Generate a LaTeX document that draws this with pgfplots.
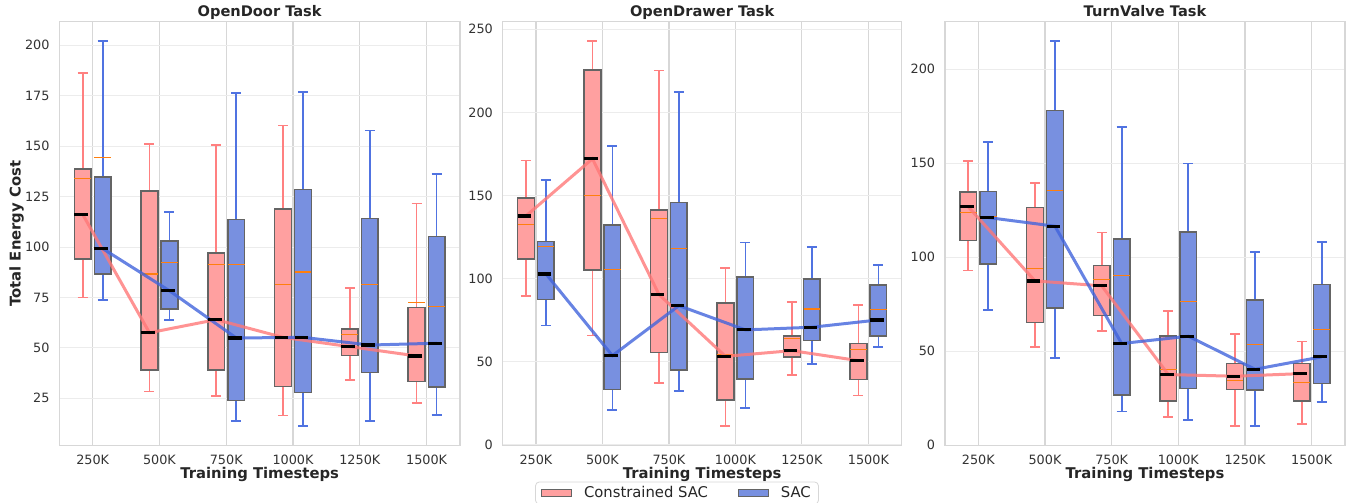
\documentclass[border=0pt]{standalone}
\usepackage{pgfplots}
\pgfplotsset{compat=1.18}
\usepackage{fontspec}
\setmainfont{DejaVu Sans}
\definecolor{cfill}{RGB}{255,160,160}
\definecolor{sfill}{RGB}{120,144,224}
\definecolor{cwhisk}{RGB}{255,128,128}
\definecolor{swhisk}{RGB}{80,115,225}
\definecolor{cline}{RGB}{255,120,120}
\definecolor{sline}{RGB}{65,100,220}
\definecolor{meanc}{RGB}{255,127,14}
\definecolor{edgec}{RGB}{100,100,100}
\definecolor{tickc}{RGB}{51,51,51}
\definecolor{titlec}{RGB}{38,38,38}
\definecolor{vgrid}{RGB}{215,215,215}
\definecolor{hgrid}{RGB}{236,236,236}
\definecolor{framec}{RGB}{215,215,215}

\pgfplotsset{
  panel/.style={
    set layers,
    scale only axis, height=212pt, anchor=south west,
    xmin=-0.5, xmax=5.5,
    xtick={0,1,2,3,4,5},
    xticklabels={250K,500K,750K,1000K,1250K,1500K},
    grid=major,
    x grid style={draw=vgrid, line width=0.55pt},
    y grid style={draw=hgrid, line width=0.5pt},
    axis line style={draw=framec, line width=0.6pt},
    major tick length=0pt,
    tick label style={font=\fontsize{6.4}{7.5}\selectfont, text=tickc},
    /pgf/number format/assume math mode=true,
    yticklabel style={xshift=-1.4pt},
    xticklabel style={yshift=-0.9pt},
    every axis title shift=0pt,
    title style={at={(0.5,1)}, anchor=base, yshift=2.5pt, font=\bfseries\fontsize{7.3}{8.5}\selectfont, text=titlec},
    xlabel style={at={(axis description cs:0.5,0)}, anchor=base, yshift=-16.2pt, font=\bfseries\fontsize{7.4}{8.5}\selectfont, text=titlec},
    ylabel style={at={(axis description cs:-0.0963,0.5)}, anchor=base, font=\bfseries\fontsize{7.4}{8.5}\selectfont, text=titlec},
    xlabel={Training Timesteps},
  },
  cmed/.style={forget plot, draw=cline, draw opacity=0.8, line width=1.5pt},
  smed/.style={forget plot, draw=sline, draw opacity=0.8, line width=1.5pt},
}
% #1 position, #2 lower whisker, #3 lower quartile, #4 median, #5 upper quartile,
% #6 upper whisker, #7 mean, #8 fill colour, #9 whisker colour
\newcommand{\bx}[9]{%
  \pgfmathsetmacro\bxL{#1-0.125}%
  \pgfmathsetmacro\bxR{#1+0.125}%
  \pgfmathsetmacro\bxM{#1+0.08}%
  \pgfmathsetmacro\bxCL{#1-0.075}%
  \pgfmathsetmacro\bxCR{#1+0.075}%
  \edef\bxdo{%
    \noexpand\addplot[forget plot, draw=#9, line width=0.85pt] coordinates {(#1,#2) (#1,#3)};%
    \noexpand\addplot[forget plot, draw=#9, line width=0.85pt] coordinates {(#1,#5) (#1,#6)};%
    \noexpand\addplot[forget plot, draw=#9, line width=0.85pt] coordinates {(\bxCL,#2) (\bxCR,#2)};%
    \noexpand\addplot[forget plot, draw=#9, line width=0.85pt] coordinates {(\bxCL,#6) (\bxCR,#6)};%
    \noexpand\addplot[forget plot, fill=#8, draw=edgec, line width=0.75pt] coordinates {(\bxL,#3) (\bxR,#3) (\bxR,#5) (\bxL,#5)} -- cycle;%
    \noexpand\addplot[forget plot, draw=meanc, line width=0.55pt] coordinates {(\bxL,#7) (\bxR,#7)};%
    \noexpand\addplot[forget plot, on layer=axis foreground, draw=black, line width=1.6pt] coordinates {(\bxL,#4) (\bxM,#4)};%
  }\bxdo}
\newcommand{\cbx}[7]{\bx{#1}{#2}{#3}{#4}{#5}{#6}{#7}{cfill}{cwhisk}}
\newcommand{\sbx}[7]{\bx{#1}{#2}{#3}{#4}{#5}{#6}{#7}{sfill}{swhisk}}

\begin{document}
\begin{tikzpicture}

% ---------------- OpenDoor
\begin{axis}[panel, at={(29.65pt,28.65pt)}, width=200.35pt,
  ymin=1.5, ymax=211.7, ytick={25,50,75,100,125,150,175,200},
  title={OpenDoor Task}, ylabel={Total Energy Cost}]
\cbx{-0.15}{75.0}{94.0}{116.2}{138.7}{186.3}{133.9}
\cbx{0.85}{28.3}{39.0}{57.5}{127.8}{150.9}{86.6}
\cbx{1.85}{26.1}{39.0}{64.0}{97.0}{150.6}{91.4}
\cbx{2.85}{16.4}{30.9}{55.2}{118.8}{160.3}{81.5}
\cbx{3.85}{34.1}{46.1}{50.6}{59.3}{79.7}{56.7}
\cbx{4.85}{22.8}{33.4}{46.0}{70.1}{121.5}{72.7}
\sbx{0.15}{73.9}{86.5}{99.2}{134.7}{202.1}{144.5}
\sbx{1.15}{63.7}{69.3}{78.3}{103.0}{117.5}{92.4}
\sbx{2.15}{13.7}{23.8}{54.9}{113.7}{176.5}{91.2}
\sbx{3.15}{11.3}{27.8}{55.2}{128.6}{176.8}{87.6}
\sbx{4.15}{13.9}{37.7}{51.4}{114.2}{157.7}{81.3}
\sbx{5.15}{16.6}{30.6}{52.3}{105.1}{136.2}{70.6}
\addplot[cmed] coordinates {(-0.15,116.2) (0.85,57.5) (1.85,64.0) (2.85,55.2) (3.85,50.6) (4.85,46.0)};
\addplot[smed] coordinates {(0.15,99.2) (1.15,78.3) (2.15,54.9) (3.15,55.2) (4.15,51.4) (5.15,52.3)};
\end{axis}

% ---------------- OpenDrawer
\begin{axis}[panel, at={(251.35pt,28.65pt)}, width=199.5pt,
  ymin=-0.6, ymax=254.6, ytick={0,50,100,150,200,250},
  title={OpenDrawer Task},
  legend columns=2,
  legend style={at={(axis description cs:0.4368,-0.0845)}, anchor=north,
    draw=framec, rounded corners=2pt, fill=white,
    font=\fontsize{7.4}{8.5}\selectfont, text=titlec,
    inner xsep=2.85pt, inner ysep=1pt,
    nodes={inner sep=1pt},
    /tikz/every odd column/.append style={column sep=4.85pt},
    /tikz/every even column/.append style={column sep=14pt}}]
\addlegendimage{legend image code/.code={\draw[sharp corners,fill=cfill,draw=edgec,line width=0.6pt] (0pt,-1.9pt) rectangle (15pt,1.9pt);}}
\addlegendentry{Constrained SAC}
\addlegendimage{legend image code/.code={\draw[sharp corners,fill=sfill,draw=edgec,line width=0.6pt] (0pt,-1.9pt) rectangle (15pt,1.9pt);}}
\addlegendentry{SAC}
\cbx{-0.15}{89.6}{111.9}{137.7}{148.4}{171.1}{132.5}
\cbx{0.85}{65.8}{105.0}{172.1}{225.5}{243.0}{150.0}
\cbx{1.85}{37.2}{55.4}{90.4}{141.3}{225.3}{135.9}
\cbx{2.85}{11.4}{26.9}{53.2}{85.4}{106.2}{54.0}
\cbx{3.85}{41.8}{52.8}{56.6}{65.5}{85.7}{63.7}
\cbx{4.85}{29.7}{39.3}{50.6}{61.0}{83.9}{57.2}
\sbx{0.15}{71.7}{87.3}{102.8}{122.3}{159.2}{119.5}
\sbx{1.15}{20.9}{33.3}{53.6}{132.3}{179.9}{105.2}
\sbx{2.15}{32.3}{45.0}{83.7}{145.8}{212.2}{118.1}
\sbx{3.15}{22.1}{39.6}{69.1}{100.8}{121.7}{68.5}
\sbx{4.15}{48.6}{62.7}{70.7}{99.6}{119.0}{81.7}
\sbx{5.15}{59.0}{65.5}{75.1}{96.0}{108.3}{81.3}
\addplot[cmed] coordinates {(-0.15,137.7) (0.85,172.1) (1.85,90.4) (2.85,53.2) (3.85,56.6) (4.85,50.6)};
\addplot[smed] coordinates {(0.15,102.8) (1.15,53.6) (2.15,83.7) (3.15,69.1) (4.15,70.7) (5.15,75.1)};
\end{axis}

% ---------------- TurnValve
\begin{axis}[panel, at={(472.5pt,28.65pt)}, width=200pt,
  ymin=-0.25, ymax=225.3, ytick={0,50,100,150,200},
  title={TurnValve Task}]
\cbx{-0.15}{92.9}{108.9}{126.8}{134.6}{151.2}{123.9}
\cbx{0.85}{52.3}{65.3}{87.4}{126.4}{139.4}{94.0}
\cbx{1.85}{60.8}{69.0}{84.8}{95.7}{113.1}{88.1}
\cbx{2.85}{14.9}{23.4}{37.6}{58.0}{71.3}{40.3}
\cbx{3.85}{10.3}{29.6}{36.7}{43.5}{59.2}{34.6}
\cbx{4.85}{11.2}{23.6}{38.1}{43.5}{55.2}{33.3}
\sbx{0.15}{72.0}{96.4}{121.1}{135.1}{161.3}{121.5}
\sbx{1.15}{46.3}{73.0}{116.5}{178.0}{214.9}{135.5}
\sbx{2.15}{17.9}{26.8}{54.1}{109.7}{169.1}{90.1}
\sbx{3.15}{13.3}{30.3}{58.0}{113.5}{149.8}{76.4}
\sbx{4.15}{10.3}{29.4}{40.4}{77.3}{102.8}{53.6}
\sbx{5.15}{23.0}{32.8}{47.0}{85.6}{108.1}{61.5}
\addplot[cmed] coordinates {(-0.15,126.8) (0.85,87.4) (1.85,84.8) (2.85,37.6) (3.85,36.7) (4.85,38.1)};
\addplot[smed] coordinates {(0.15,121.1) (1.15,116.5) (2.15,54.1) (3.15,58.0) (4.15,40.4) (5.15,47.0)};
\end{axis}

\pgfresetboundingbox
\path[use as bounding box] (0,0) rectangle (675pt,251.5pt);
\end{tikzpicture}
\end{document}
